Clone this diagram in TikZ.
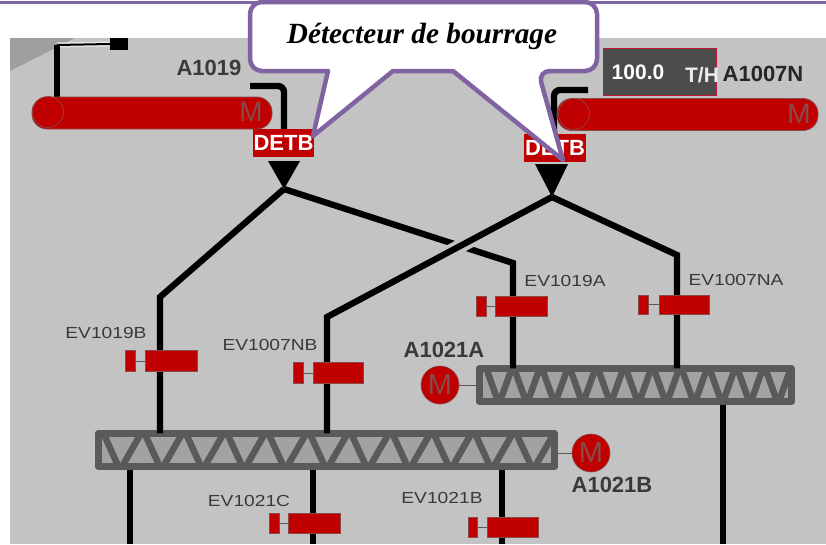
\documentclass[tikz,border=0pt]{standalone}
\usepackage{fontspec}
\setmainfont{Liberation Serif}
\setsansfont{Liberation Sans}
\usetikzlibrary{calc}
\definecolor{panel}{HTML}{C3C3C3}
\definecolor{redfill}{HTML}{C00000}
\definecolor{redline}{HTML}{8A4A4A}
\definecolor{purpleline}{HTML}{8064A2}
\definecolor{convdark}{HTML}{5A5A5A}
\definecolor{convlight}{HTML}{A2A2A2}
\definecolor{inktext}{HTML}{3A3A3A}
\newcommand{\evtext}[1]{\scalebox{1.2}[1]{#1}}
\tikzset{
  pipe/.style={draw=black,line width=6.3pt,line join=miter},
  halo/.style={draw=panel,line width=14pt},
  thin link/.style={draw=#1,line width=1pt},
  bar/.style={fill=redfill,draw=redline,line width=0.8pt,rounded corners=15pt,inner sep=0pt,minimum height=32pt},
  valvebig/.style={fill=redfill,draw=redline,line width=0.8pt,inner sep=0pt,minimum width=52pt,minimum height=21pt},
  valvesmall/.style={fill=redfill,draw=redline,line width=0.8pt,inner sep=0pt,minimum width=10pt,minimum height=21pt},
  conveyor/.style={fill=convlight,inner sep=0pt,minimum height=33pt},
  frame/.style={draw=convdark,line width=7pt,line join=round},
  zig/.style={draw=convdark,line width=6.5pt,line join=round},
  motor/.style={circle,fill=redfill,draw=redline,line width=0.6pt,inner sep=0pt,minimum size=38pt,text=redline,font=\sffamily\fontsize{29}{29}\selectfont},
  barm/.style={text=redline,inner sep=0pt,font=\sffamily\fontsize{28}{28}\selectfont},
  detb/.style={fill=redfill,text=white,inner sep=0pt,minimum height=28pt,font=\sffamily\bfseries\fontsize{22}{22}\selectfont},
  bigtag/.style={text=inktext,inner sep=0pt,font=\sffamily\bfseries\fontsize{22}{22}\selectfont},
  evtag/.style={text=inktext,inner sep=0pt,font=\sffamily\fontsize{16}{16}\selectfont},
  callout/.style={fill=white,draw=purpleline,line width=4.5pt,line join=round},
}
\begin{document}
\begin{tikzpicture}[x=1pt,y=-1pt]
\useasboundingbox (0,0) rectangle (826,544);
\fill[white] (0,0) rectangle (826,544);
\fill[panel] (10,38) rectangle (826,544);
\fill[gray!75] (10,38) -- (75,38) -- (10,71) -- cycle;
\draw[purpleline,line width=3pt] (0,2) -- (826,2);

% top-left feed
\node[fill=black,inner sep=0pt,minimum width=18pt,minimum height=12pt] (feedbox) at (119,44) {};
\coordinate (feedcorner) at (57,45);
\draw[white!80!gray,line width=5pt] (feedbox.west) -- (feedcorner);
\draw[black,line width=2pt] (feedbox.west) -- (feedcorner);
% conveyors of the top
\coordinate (hookL) at (284,92);
\coordinate (hookLend) at (250,86);
\coordinate (hookR) at (554,96);
\coordinate (hookRend) at (588,90);
\node[detb,minimum width=61pt] (detL) at (283.5,143) {DETB};
\node[detb,minimum width=62pt] (detR) at (555,148) {DETB};
\draw[pipe,rounded corners=6pt] (hookLend) -- (284,86) -- (detL.north -| hookL);
\draw[pipe,rounded corners=6pt] (hookRend) -- (554,90) -- (detR.north -| hookR);
\draw[pipe] (feedcorner) -- (57,97);
\node[bar,minimum width=240pt] (barL) at (152,113) {};
\node[bar,minimum width=261pt] (barR) at (687.5,114.5) {};
\node[circle,fill=redfill,draw=redline,line width=0.6pt,inner sep=0pt,minimum size=31pt] (rollL) at (48,112) {};
\node[circle,fill=redfill,draw=redline,line width=0.6pt,inner sep=0pt,minimum size=31pt] (rollR) at (574,114) {};
\node[barm] (mL) at (251,112) {M};
\node[barm] (mR) at (799,114) {M};

% detector triangles and junctions
\coordinate (triLa) at (268,161);
\coordinate (triLb) at (300,161);
\coordinate (jL) at (284,189);
\coordinate (triRa) at (535,164);
\coordinate (triRb) at (568,164);
\coordinate (jR) at (552,197);
\fill[black] (triLa) -- (triLb) -- (jL) -- cycle;
\fill[black] (triRa) -- (triRb) -- (jR) -- cycle;

% conveyors
\coordinate (bendA) at (160,297);
\coordinate (bendB) at (327,317);
\coordinate (bendC) at (513,263);
\coordinate (bendD) at (677,255);
\node[conveyor,minimum width=312pt] (cA) at (635.5,385) {};
\node[conveyor,minimum width=456pt] (cB) at (326.5,450) {};
\begin{scope}
\clip (cA.south west) rectangle (cA.north east);
\foreach \k in {0,...,10} {
  \draw[zig] ({485+27.9*\k},365) -- ({499+27.9*\k},404) -- ({513+27.9*\k},365);
}
\end{scope}
\begin{scope}
\clip (cB.south west) rectangle (cB.north east);
\draw[zig] (102,430) -- (120,470);
\foreach \k in {0,...,10} {
  \draw[zig] ({120+41.3*\k},470) -- ({143+41.3*\k},430) -- ({161.3+41.3*\k},470);
}
\end{scope}
\draw[frame] (cA.south west) rectangle (cA.north east);
\draw[frame] (cB.south west) rectangle (cB.north east);

% pipes
\draw[pipe] (jL) -- (bendC) -- (cA.north -| bendC);
\draw[pipe] (jL) -- (bendA) -- (cB.north -| bendA);
\draw[halo] (500,225) -- (400,278);
\draw[pipe] (jR) -- (bendB) -- (cB.north -| bendB);
\draw[pipe] (jR) -- (bendD) -- (cA.north -| bendD);
\coordinate (outA) at (130,544);
\coordinate (outB) at (313,544);
\coordinate (outC) at (502,544);
\coordinate (outD) at (723,544);
\draw[pipe] ($(cB.south -| outA)+(0,3)$) -- (outA);
\draw[pipe] ($(cB.south -| outB)+(0,3)$) -- (outB);
\draw[pipe] ($(cB.south -| outC)+(0,3)$) -- (outC);
\draw[pipe] ($(cA.south -| outD)+(0,3)$) -- (outD);

% valves
\node[valvebig] (v1b) at (171,361) {};
\node[valvesmall] (v1bs) at (130.5,361) {};
\draw[thin link=convdark] (v1bs) -- (v1b);
\node[valvebig,minimum width=50pt] (v2b) at (338,373) {};
\node[valvesmall] (v2bs) at (298.5,373) {};
\draw[thin link=convdark] (v2bs) -- (v2b);
\node[valvebig,minimum height=20pt] (v3b) at (521.5,306.5) {};
\node[valvesmall,minimum height=20pt] (v3bs) at (481,306.5) {};
\draw[thin link=convdark] (v3bs) -- (v3b);
\node[valvebig,minimum width=50pt,minimum height=19pt] (v4b) at (684,304.5) {};
\node[valvesmall,minimum height=19pt] (v4bs) at (643.5,304.5) {};
\draw[thin link=convdark] (v4bs) -- (v4b);
\node[valvebig,minimum height=20pt] (v5b) at (314.5,523) {};
\node[valvesmall,minimum height=20pt] (v5bs) at (274,523) {};
\draw[thin link=convdark] (v5bs) -- (v5b);
\node[valvebig,minimum width=51pt,minimum height=20pt] (v6b) at (512.5,527) {};
\node[valvesmall,minimum width=9pt,minimum height=20pt] (v6bs) at (473,527) {};
\draw[thin link=convdark] (v6bs) -- (v6b);

% motors
\node[motor] (mA) at (440,385) {M};
\node[motor] (mB) at (591,453) {M};
\draw[thin link=gray!70!black] (mA) -- (mA -| cA.west);
\draw[thin link=gray!70!black] (mB) -- (mB -| cB.east);

% labels
\node[bigtag] (tA1019) at (209,68) {A1019};
\node[bigtag] (tA1021A) at (444,350) {A1021A};
\node[bigtag] (tA1021B) at (612,485) {A1021B};
\node[bigtag,text=black!85] (tA1007N) at (763,74) {A1007N};
\node[evtag] (tv1) at (106,333) {\evtext{EV1019B}};
\node[evtag] (tv2) at (270,345) {\evtext{EV1007NB}};
\node[evtag] (tv3) at (565,281) {\evtext{EV1019A}};
\node[evtag] (tv4) at (736,280) {\evtext{EV1007NA}};
\node[evtag] (tv5) at (249,501) {\evtext{EV1021C}};
\node[evtag] (tv6) at (442,498) {\evtext{EV1021B}};

% readout
\node[fill=convdark!85!black,draw=purple!70!red!80!gray,line width=1pt,inner sep=0pt,minimum width=113pt,minimum height=47pt] (readout) at (659.5,71.5) {};
\node[text=white,inner sep=0pt,font=\sffamily\bfseries\fontsize{21}{21}\selectfont] (rval) at (638,72) {100.0};
\node[text=white!85!gray,inner sep=0pt,font=\sffamily\bfseries\fontsize{21}{21}\selectfont] (runit) at (702,75) {T/H};

% callout
\coordinate (tipL) at (313,136);
\coordinate (tipR) at (563,160);
\draw[callout,rounded corners=12pt] (250,37) -- (250,2) -- (597,2) -- (597,71)
  -- (538,71) [sharp corners] -- (tipR) -- (453,71) -- (393,71) -- (tipL) -- (328,71)
  [rounded corners=12pt] -- (250,71) -- cycle;
\node[inner sep=0pt,font=\rmfamily\bfseries\itshape\fontsize{29.3}{29.3}\selectfont] (bubble) at (422,36) {Détecteur de bourrage};
\end{tikzpicture}
\end{document}
